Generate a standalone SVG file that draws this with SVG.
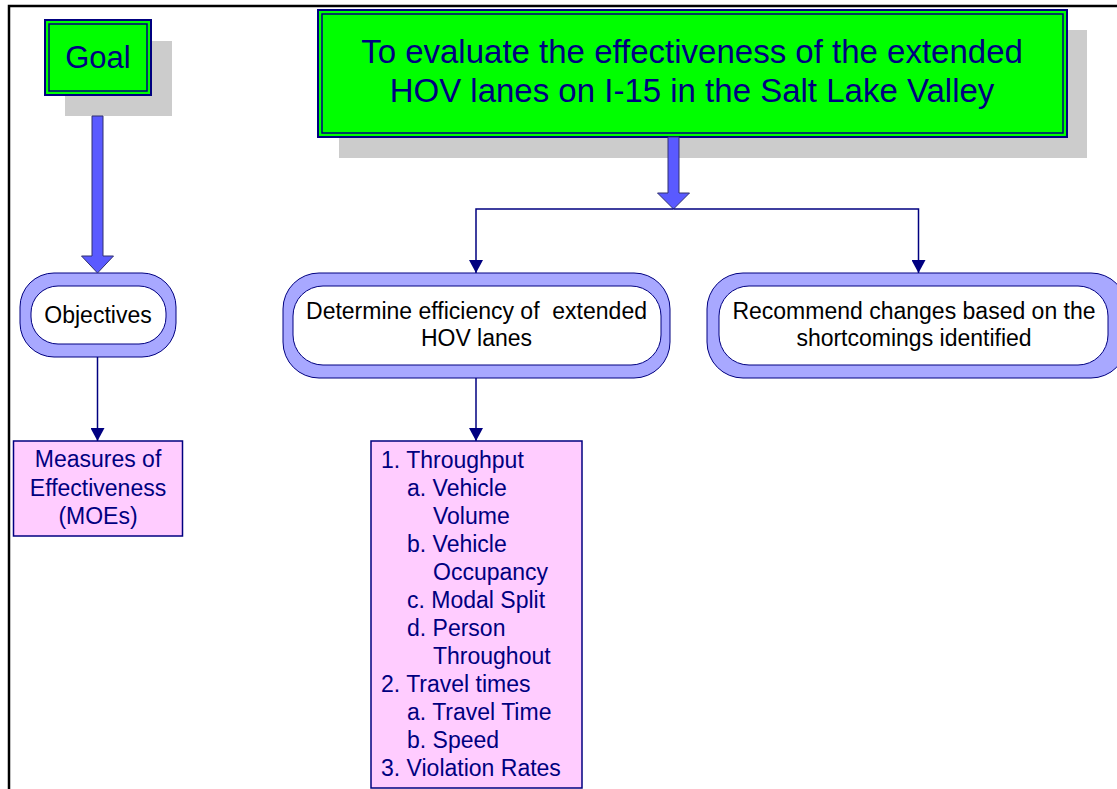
<svg xmlns="http://www.w3.org/2000/svg" width="1117" height="789" viewBox="0 0 1117 789">
<defs>
<style>
.shadow{fill:#cccccc}
.gbox{fill:#00ff00;stroke:#000080;stroke-width:2}
.gin{fill:none;stroke:#000080;stroke-width:1.5}
.outer{fill:#a8a8ff;stroke:#000080;stroke-width:1}
.inner{fill:#ffffff;stroke:#000080;stroke-width:1}
.pink{fill:#ffccff;stroke:#000080;stroke-width:1.5}
.fat{fill:#5a5aff;stroke:#303070;stroke-width:1}
.thin{fill:none;stroke:#000080;stroke-width:1.5;marker-end:url(#ah)}
text{font-family:"Liberation Sans",Arial,sans-serif;white-space:pre}
.big{font-size:33px;fill:#000080;text-anchor:middle}
.goal{font-size:31px;fill:#000080;text-anchor:middle}
.blk{font-size:23px;fill:#000000;text-anchor:middle}
.nav{font-size:23px;fill:#000080;text-anchor:middle}
.lst{font-size:23px;fill:#000080}
</style>
<marker id="ah" markerUnits="userSpaceOnUse" viewBox="0 0 13 14" markerWidth="13" markerHeight="14" refX="13" refY="7" orient="auto">
<path d="M0,0 L13,7 L0,14 Z" fill="#000080"/>
</marker>
</defs>
<rect width="1117" height="789" fill="#ffffff"/>
<path d="M9,789 V6 H1117" fill="none" stroke="#000000" stroke-width="2.5"/>

<g id="goal">
<rect class="shadow" x="65" y="41" width="107" height="75"/>
<rect class="gbox" x="45" y="20" width="106" height="75"/>
<rect class="gin" x="49" y="24" width="98" height="67"/>
<text class="goal" x="98" y="67.5">Goal</text>
</g>

<g id="main-goal">
<rect class="shadow" x="339" y="30" width="748" height="128"/>
<rect class="gbox" x="318" y="10" width="749" height="127"/>
<rect class="gin" x="322" y="14" width="741" height="119"/>
<text class="big" x="692" y="62.5">To evaluate the effectiveness of the extended</text>
<text class="big" x="692" y="101.5">HOV lanes on I-15 in the Salt Lake Valley</text>
</g>

<g id="objectives">
<rect class="outer" x="20" y="273" width="156" height="84" rx="34"/>
<rect class="inner" x="31" y="286" width="135" height="58" rx="27"/>
<text class="blk" x="98" y="322.5">Objectives</text>
</g>

<g id="determine">
<rect class="outer" x="283" y="273" width="387" height="105" rx="36"/>
<rect class="inner" x="293" y="286" width="368" height="79" rx="30"/>
<text class="blk" x="476.5" y="319" xml:space="preserve">Determine efficiency of  extended</text>
<text class="blk" x="476.5" y="346">HOV lanes</text>
</g>

<g id="recommend">
<rect class="outer" x="707" y="273" width="420" height="105" rx="36"/>
<rect class="inner" x="719" y="286" width="389" height="79" rx="30"/>
<text class="blk" x="914" y="319">Recommend changes based on the</text>
<text class="blk" x="914" y="346">shortcomings identified</text>
</g>

<g id="moes">
<rect class="pink" x="13.5" y="441" width="169" height="95"/>
<text class="nav" x="98" y="467">Measures of</text>
<text class="nav" x="98" y="496">Effectiveness</text>
<text class="nav" x="98" y="524">(MOEs)</text>
</g>

<g id="mde-list">
<rect class="pink" x="371" y="441" width="211" height="347"/>
<text class="lst" x="381" y="467.5">1. Throughput</text>
<text class="lst" x="407" y="495.5">a. Vehicle</text>
<text class="lst" x="433" y="523.5">Volume</text>
<text class="lst" x="407" y="551.5">b. Vehicle</text>
<text class="lst" x="433" y="579.5">Occupancy</text>
<text class="lst" x="407" y="607.5">c. Modal Split</text>
<text class="lst" x="407" y="635.5">d. Person</text>
<text class="lst" x="433" y="663.5">Throughout</text>
<text class="lst" x="381" y="691.5">2. Travel times</text>
<text class="lst" x="407" y="719.5">a. Travel Time</text>
<text class="lst" x="407" y="747.5">b. Speed</text>
<text class="lst" x="381" y="775.5">3. Violation Rates</text>
</g>

<g id="connectors">
<polygon class="fat" points="92,116 103,116 103,256 113.5,256 97.5,273 81.5,256 92,256"/>
<polygon class="fat" points="668,137 679,137 679,193 689.5,193 673.5,209 657.5,193 668,193"/>
<path class="thin" d="M673.5,209 H476 V273"/>
<path class="thin" d="M673.5,209 H918.5 V273"/>
<path class="thin" d="M97.5,357 V441"/>
<path class="thin" d="M476,378 V441"/>
</g>
</svg>
